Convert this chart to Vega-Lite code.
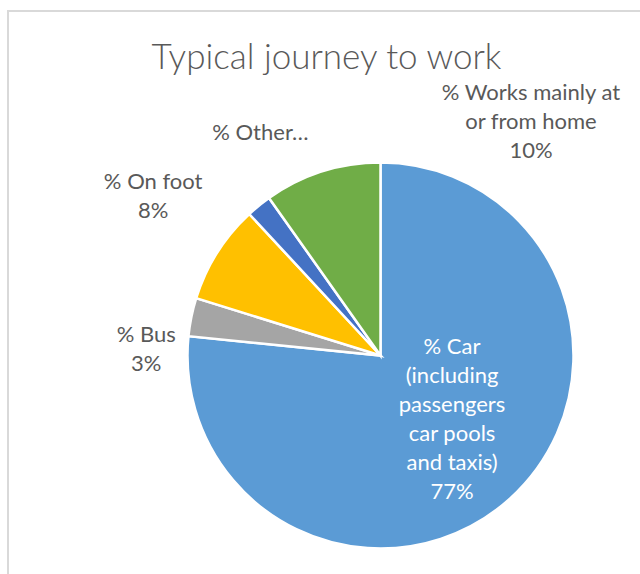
{
  "$schema": "https://vega.github.io/schema/vega-lite/v6.json",
  "width": 745,
  "height": 689,
  "autosize": {"type": "none"},
  "padding": {"left": 8, "top": 11, "right": -113, "bottom": -126},
  "background": "white",
  "view": {"stroke": "#d9d9d9", "strokeWidth": 2, "fill": "white"},
  "title": {
    "text": "Typical journey to work",
    "font": "Lato",
    "fontSize": 35,
    "fontWeight": 300,
    "color": "#595959",
    "anchor": "middle",
    "frame": "group",
    "baseline": "alphabetic",
    "offset": -93,
    "dx": -54
  },
  "config": {
    "view": {"stroke": "#d9d9d9", "strokeWidth": 2}
  },
  "data": {
    "values": [
      {"mode": "Car", "label": "% Car\n(including\npassengers\ncar pools\nand taxis)\n77%", "pct": 76.6, "rank": 1},
      {"mode": "Bus", "label": "% Bus\n3%", "pct": 3.2, "rank": 2},
      {"mode": "On foot", "label": "% On foot\n8%", "pct": 8.3, "rank": 3},
      {"mode": "Other", "label": "% Other…", "pct": 2.1, "rank": 4},
      {"mode": "Works mainly at or from home", "label": "% Works mainly at\nor from home\n10%", "pct": 9.8, "rank": 5}
    ]
  },
  "encoding": {
    "theta": {"field": "pct", "type": "quantitative", "stack": true},
    "order": {"field": "rank", "type": "quantitative", "sort": "ascending"}
  },
  "layer": [
    {
      "mark": {"type": "arc", "outerRadius": 193, "stroke": "white", "strokeWidth": 2.5},
      "encoding": {
        "color": {
          "field": "mode",
          "type": "nominal",
          "scale": {
            "domain": ["Car", "Bus", "On foot", "Other", "Works mainly at or from home"],
            "range": ["#5B9BD5", "#A5A5A5", "#FFC000", "#4472C4", "#70AD47"]
          },
          "legend": null
        }
      }
    },
    {
      "mark": {"type": "text", "radius": 97, "dx": 6.5, "dy": -80.5, "font": "Lato", "fontSize": 22, "lineHeight": 29, "lineBreak": "\n", "color": "white", "align": "center", "baseline": "middle"},
      "encoding": {"text": {"condition": {"test": "datum.rank === 1", "field": "label", "type": "nominal"}, "value": ""}}
    },
    {
      "mark": {"type": "text", "radius": 233, "dx": -6, "dy": 26, "font": "Lato", "fontSize": 22, "lineHeight": 29, "lineBreak": "\n", "color": "#595959", "align": "center", "baseline": "middle"},
      "encoding": {"text": {"condition": {"test": "datum.rank === 2", "field": "label", "type": "nominal"}, "value": ""}}
    },
    {
      "mark": {"type": "text", "radius": 277, "dx": 7, "dy": -26, "font": "Lato", "fontSize": 22, "lineHeight": 29, "lineBreak": "\n", "color": "#595959", "align": "center", "baseline": "middle"},
      "encoding": {"text": {"condition": {"test": "datum.rank === 3", "field": "label", "type": "nominal"}, "value": ""}}
    },
    {
      "mark": {"type": "text", "radius": 252, "dx": 38.7, "dy": -26.6, "font": "Lato", "fontSize": 22, "lineHeight": 29, "lineBreak": "\n", "color": "#595959", "align": "center", "baseline": "middle"},
      "encoding": {"text": {"condition": {"test": "datum.rank === 4", "field": "label", "type": "nominal"}, "value": ""}}
    },
    {
      "mark": {"type": "text", "radius": 278, "dx": 234.7, "dy": 2, "font": "Lato", "fontSize": 22, "lineHeight": 29, "lineBreak": "\n", "color": "#595959", "align": "center", "baseline": "middle"},
      "encoding": {"text": {"condition": {"test": "datum.rank === 5", "field": "label", "type": "nominal"}, "value": ""}}
    }
  ]
}
